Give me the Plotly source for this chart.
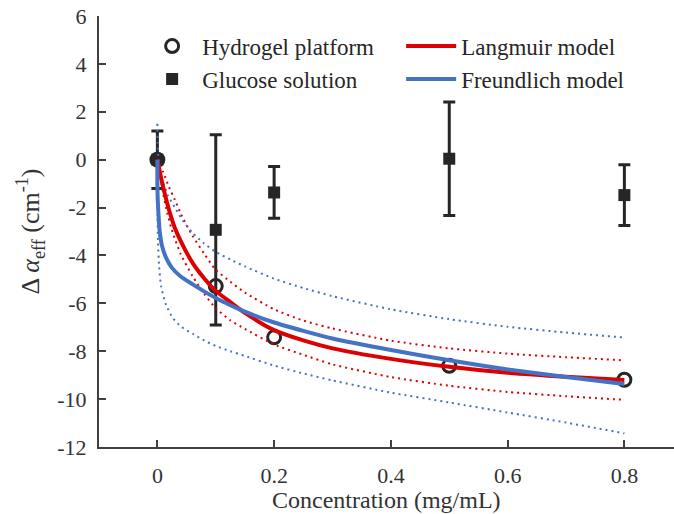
import plotly.graph_objects as go

# ---- data ----
conc = [0, 0.1, 0.2, 0.5, 0.8]
hydrogel = [0, -5.28, -7.42, -8.61, -9.19]
glucose = [0, -2.93, -1.37, 0.04, -1.48]
glucose_err = [1.2, 3.97, 1.08, 2.37, 1.27]

lang_x = [0, 0.005, 0.01, 0.02, 0.03, 0.04, 0.06, 0.08, 0.1, 0.125, 0.15, 0.2, 0.25, 0.3, 0.4, 0.5, 0.6, 0.7, 0.8]
lang_y = [0, -0.6, -1.15, -2.1, -2.85, -3.4, -4.3, -4.95, -5.48, -5.95, -6.4, -7.12, -7.55, -7.88, -8.32, -8.65, -8.9, -9.07, -9.2]

fr_x = [0, 0.0003, 0.0015, 0.004, 0.008, 0.015, 0.025, 0.04, 0.06, 0.08, 0.1, 0.125, 0.15, 0.2, 0.25, 0.3, 0.4, 0.5, 0.6, 0.7, 0.8]
fr_y = [0, -1.4, -2.1, -3.0, -3.6, -4.1, -4.52, -4.88, -5.2, -5.5, -5.78, -6.08, -6.35, -6.8, -7.15, -7.47, -7.95, -8.38, -8.76, -9.08, -9.37]

lang_up_x = [0, 0.01, 0.02, 0.03, 0.04, 0.06, 0.08, 0.1, 0.125, 0.15, 0.2, 0.25, 0.3, 0.4, 0.5, 0.6, 0.7, 0.8]
lang_up_y = [0, -0.52, -1.15, -1.68, -2.25, -3.17, -3.92, -4.6, -5.1, -5.55, -6.25, -6.72, -7.05, -7.56, -7.88, -8.1, -8.25, -8.38]

lang_lo_x = [0, 0.004, 0.0094, 0.015, 0.025, 0.04, 0.06, 0.08, 0.1, 0.125, 0.15, 0.2, 0.25, 0.3, 0.4, 0.5, 0.6, 0.7, 0.8]
lang_lo_y = [0, -0.55, -1.34, -2.04, -2.95, -3.95, -4.85, -5.6, -6.2, -6.71, -7.07, -7.72, -8.15, -8.55, -9.08, -9.44, -9.7, -9.88, -10.03]

fr_up_x = [0, 0.0005, 0.002, 0.005, 0.0094, 0.018, 0.03, 0.045, 0.06, 0.08, 0.1, 0.125, 0.15, 0.2, 0.25, 0.3, 0.4, 0.5, 0.6, 0.7, 0.8]
fr_up_y = [1.5, 0.7, 0.0, -0.5, -0.93, -1.48, -2.0, -2.6, -3.05, -3.5, -3.85, -4.17, -4.46, -4.97, -5.36, -5.7, -6.25, -6.66, -6.98, -7.22, -7.43]

fr_lo_x = [0, 0.0003, 0.001, 0.003, 0.0065, 0.015, 0.027, 0.041, 0.061, 0.08, 0.1, 0.125, 0.15, 0.2, 0.25, 0.3, 0.4, 0.5, 0.6, 0.7, 0.8]
fr_lo_y = [-1.5, -2.4, -3.4, -4.47, -5.3, -6.07, -6.63, -6.98, -7.28, -7.55, -7.78, -8.0, -8.2, -8.6, -8.93, -9.22, -9.73, -10.14, -10.56, -10.98, -11.43]

x_ticks = [0, 0.2, 0.4, 0.6, 0.8]
x_ticktext = ["0", "0.2", "0.4", "0.6", "0.8"]
y_ticks = [-12, -10, -8, -6, -4, -2, 0, 2, 4, 6]
y_ticktext = ["-12", "-10", "-8", "-6", "-4", "-2", "0", "2", "4", "6"]
x_title = "Concentration (mg/mL)"
y_title = "Δ <i>α</i><sub>eff</sub> (cm<sup>-1</sup>)"

# ---- styles ----
DARK = "#262626"
RED = "#DD0000"
BLUE = "#4472C4"
FONT = "Liberation Serif"

fig = go.Figure()

fig.add_trace(go.Scatter(
    x=conc, y=hydrogel, mode="markers", name="Hydrogel platform", legendrank=1,
    marker=dict(symbol="circle-open", size=13, color=DARK, line=dict(width=3, color=DARK)),
))
fig.add_trace(go.Scatter(
    x=conc, y=glucose, mode="markers", name="Glucose solution", legendrank=3,
    marker=dict(symbol="square", size=12, color=DARK),
    error_y=dict(type="data", array=glucose_err, visible=True, thickness=3, width=6, color=DARK),
))

dot = "2px,4px"
for bx, by, col in [(lang_up_x, lang_up_y, RED), (lang_lo_x, lang_lo_y, RED),
                    (fr_up_x, fr_up_y, BLUE), (fr_lo_x, fr_lo_y, BLUE)]:
    fig.add_trace(go.Scatter(
        x=bx, y=by, mode="lines", showlegend=False, hoverinfo="skip",
        line=dict(color=col, width=2, dash=dot, shape="spline", smoothing=0.6),
    ))

fig.add_trace(go.Scatter(
    x=lang_x, y=lang_y, mode="lines", name="Langmuir model", legendrank=2,
    line=dict(color=RED, width=4, shape="spline", smoothing=0.6),
))
fig.add_trace(go.Scatter(
    x=fr_x, y=fr_y, mode="lines", name="Freundlich model", legendrank=4,
    line=dict(color=BLUE, width=4, shape="spline", smoothing=0.6),
))

axis_common = dict(
    showgrid=False, zeroline=False, showline=True, linecolor="#404040", linewidth=2,
    ticks="inside", ticklen=7, tickwidth=2, tickcolor="#404040",
    tickfont=dict(family=FONT, size=22, color="#333333"),
    automargin=False,
)

fig.update_xaxes(
    range=[-0.1, 0.885], tickmode="array", tickvals=x_ticks, ticktext=x_ticktext,
    ticklabelstandoff=8,
    **axis_common,
)
fig.update_yaxes(
    range=[-12, 6], tickmode="array", tickvals=y_ticks, ticktext=y_ticktext,
    title=dict(text=y_title, font=dict(family=FONT, size=26, color="#333333"), standoff=10),
    ticklabelstandoff=6,
    **axis_common,
)

fig.add_annotation(
    text=x_title, xref="paper", yref="paper", x=0.5, y=-0.1555,
    xanchor="center", yanchor="bottom", showarrow=False, borderpad=0,
    font=dict(family=FONT, size=24, color="#333333"),
)

fig.update_layout(
    width=674, height=514,
    margin=dict(l=99, r=0, t=16, b=67),
    plot_bgcolor="white", paper_bgcolor="white",
    font=dict(family=FONT, color="#333333"),
    legend=dict(
        orientation="h", x=0.075, y=0.98, xanchor="left", yanchor="top",
        entrywidth=194, itemwidth=50, bgcolor="rgba(0,0,0,0)",
        font=dict(family=FONT, size=23, color="#262626"),
        traceorder="normal",
    ),
)

fig.write_html("out.html")
